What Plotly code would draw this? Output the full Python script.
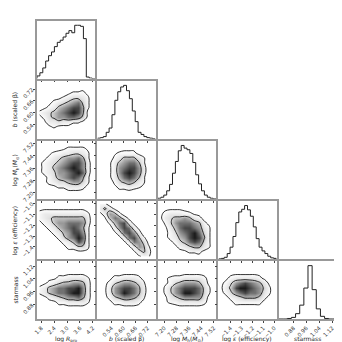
import numpy as np
import plotly.graph_objects as go
from plotly.subplots import make_subplots

# parameter names, axis ranges and ticks
labels = ["log <i>R</i><sub>pro</sub>", "<i>b</i> (scaled β)",
          "log <i>M</i><sub>h</sub>(<i>M</i><sub>⊙</sub>)", "log <i>ε</i> (efficiency)", "starmass"]
ranges = [[1.6, 4.3], [0.47, 0.76], [7.16, 7.535], [-1.51, -0.98], [0.79, 1.15]]
tickvals = [[1.8, 2.4, 3.0, 3.6, 4.2], [0.54, 0.60, 0.66, 0.72], [7.20, 7.28, 7.36, 7.44, 7.52],
            [-1.4, -1.3, -1.2, -1.1, -1.0], [0.88, 0.96, 1.04, 1.12]]
ticktext = [["1.8", "2.4", "3.0", "3.6", "4.2"], ["0.54", "0.60", "0.66", "0.72"],
            ["7.20", "7.28", "7.36", "7.44", "7.52"], ["−1.4", "−1.3", "−1.2", "−1.1", "−1.0"],
            ["0.88", "0.96", "1.04", "1.12"]]

# 1D marginal histograms (relative counts)
hist_logR = [0.05, 0.11, 0.2, 0.33, 0.43, 0.5, 0.6, 0.68, 0.72, 0.78, 0.85, 0.9, 0.86, 1.0, 1.0, 0.98, 0.75, 0.03, 0.01, 0.0]
hist_b = [0.01, 0.02, 0.04, 0.12, 0.2, 0.45, 0.72, 0.88, 0.97, 1.0, 0.9, 0.75, 0.52, 0.32, 0.12, 0.08, 0.04, 0.02, 0.01, 0.0]
hist_logM = [0.01, 0.03, 0.07, 0.15, 0.27, 0.48, 0.7, 0.9, 1.0, 0.95, 0.92, 0.85, 0.68, 0.45, 0.28, 0.15, 0.07, 0.03, 0.01, 0.0]
hist_eps = [0.0, 0.01, 0.03, 0.1, 0.22, 0.42, 0.68, 0.88, 0.93, 1.0, 0.92, 0.8, 0.6, 0.38, 0.22, 0.15, 0.1, 0.05, 0.02, 0.01]
hist_star = [0.0, 0.0, 0.01, 0.03, 0.1, 0.26, 0.58, 1.0, 0.55, 0.19, 0.05, 0.01, 0.0, 0.0]
hists = [hist_logR, hist_b, hist_logM, hist_eps, hist_star]

# 2D densities (0-9 levels), top row first, keyed (row, col)
dens_b_R = ["000000000000", "000000000100", "000000122210", "000112344320", "001234567420", "012356788520",
            "234567898510", "124566776410", "013343322100", "001211100000", "000000000000", "000000000000"]
dens_M_R = ["000000000000", "000011222210", "001223344320", "012345667520", "123456788630", "123567898630",
            "123466789730", "012456787520", "012344566420", "001122333210", "000000111100", "000000000000"]
dens_e_R = ["000000000000", "111111111100", "233333333320", "234555555530", "123566777630", "012356787520",
            "001235688620", "000124679720", "000012358620", "000001224420", "000000111110", "000000000000"]
dens_s_R = ["000000000000", "000000000000", "000011111100", "001122333320", "012345566530", "235677889630",
            "235677899630", "012345667530", "001122333320", "000011111100", "000000000000", "000000000000"]
dens_M_b = ["000000000000", "000001110000", "000122221000", "000235553200", "001356775200", "001367886300",
            "001368986300", "001357875200", "000245653200", "000122322100", "000011110000", "000000000000"]
dens_e_b = ["220000000000", "353100000000", "136520000000", "015763100000", "002578310000", "000368731000",
            "000137863000", "000013785200", "000001376410", "000000136520", "000000013530", "000000001220"]
dens_s_b = ["000000000000", "000000000000", "000111111000", "001223332100", "012456654200", "013678875300",
            "013679875300", "012456654200", "001223332100", "000111111000", "000000000000", "000000000000"]
dens_e_M = ["000000000000", "011111000000", "123332211000", "134556532100", "024677765210", "013578876320",
            "012467897420", "012356898520", "001245787420", "000123455320", "000011222100", "000000001000"]
dens_s_M = ["000000000000", "000000000000", "000111111100", "012223333210", "012456665310", "024678887420",
            "024679987420", "013456666310", "012233333210", "000111111100", "000000000000", "000000000000"]
dens_s_e = ["000000000000", "000000000000", "001111111000", "012333332100", "124678765310", "135899876420",
            "124678776320", "012345554210", "001222222110", "000111111000", "000000000000", "000000000000"]
densities = {(1, 0): dens_b_R, (2, 0): dens_M_R, (3, 0): dens_e_R, (4, 0): dens_s_R,
             (2, 1): dens_M_b, (3, 1): dens_e_b, (4, 1): dens_s_b,
             (3, 2): dens_e_M, (4, 2): dens_s_M, (4, 3): dens_s_e}

n = 5
specs = [[{} if c <= r else None for c in range(n)] for r in range(n)]
fig = make_subplots(rows=n, cols=n, specs=specs,
                    horizontal_spacing=2.5 / 302, vertical_spacing=2.5 / 301)

gray = [[0, "white"], [0.14, "white"], [0.25, "#f3f3f3"], [0.45, "#dedede"],
        [0.56, "#bcbcbc"], [0.75, "#7c7c7c"], [1, "#1a1a1a"]]


def centers(lo, hi, m):
    w = (hi - lo) / m
    return np.linspace(lo + w / 2, hi - w / 2, m)


for i in range(n):
    h = hists[i]
    edges = np.linspace(ranges[i][0], ranges[i][1], len(h) + 1)
    xs = [edges[0]] + list(edges)
    ys = [0] + list(h) + [0]
    fig.add_trace(go.Scatter(x=xs, y=ys, mode="lines", line=dict(color="#222222", width=1, shape="hv"),
                             hoverinfo="skip"), row=i + 1, col=i + 1)

for (r, c), rows in densities.items():
    z = np.array([[int(ch) for ch in s] for s in rows[::-1]], dtype=float)
    xc = centers(ranges[c][0], ranges[c][1], z.shape[1])
    yc = centers(ranges[r][0], ranges[r][1], z.shape[0])
    fig.add_trace(go.Contour(x=xc, y=yc, z=z, zmin=0, zmax=9, colorscale=gray, showscale=False,
                             contours=dict(coloring="heatmap", start=1.5, end=4.5, size=3, showlines=True),
                             line=dict(color="black", width=0.8, smoothing=1), hoverinfo="skip"),
                  row=r + 1, col=c + 1)

tickfont = dict(size=5.5, color="#333333", family="DejaVu Sans")
for r in range(n):
    for c in range(r + 1):
        fig.update_xaxes(range=ranges[c], tickvals=tickvals[c], ticktext=ticktext[c],
                         showticklabels=(r == n - 1), tickangle=-45, tickfont=tickfont,
                         ticks="outside", ticklen=2, tickcolor="#444444",
                         showgrid=False, zeroline=False, showline=True, mirror=True,
                         linecolor="#999999", linewidth=1.6, row=r + 1, col=c + 1)
        if r == c:
            fig.update_yaxes(range=[0, 1.08], showticklabels=False, ticks="", showgrid=False,
                             zeroline=False, showline=True, mirror=True,
                             linecolor="#999999", linewidth=1.6, row=r + 1, col=c + 1)
        else:
            fig.update_yaxes(range=ranges[r], tickvals=tickvals[r], ticktext=ticktext[r],
                             showticklabels=(c == 0), tickangle=-45, tickfont=tickfont,
                             ticks="outside", ticklen=2, tickcolor="#444444",
                             showgrid=False, zeroline=False, showline=True, mirror=True,
                             linecolor="#999999", linewidth=1.6, row=r + 1, col=c + 1)

# axis titles as annotations
pw = (1 - 4 * 2.5 / 302) / 5
ph = (1 - 4 * 2.5 / 301) / 5
titlefont = dict(size=6, color="#222222", family="DejaVu Sans")
for c in range(n):
    fig.add_annotation(text=labels[c], xref="paper", yref="paper", x=c * (pw + 2.5 / 302) + pw / 2,
                       y=-0.066, showarrow=False, font=titlefont, xanchor="center", yanchor="middle")
for r in range(1, n):
    fig.add_annotation(text=labels[r], xref="paper", yref="paper", x=-0.072,
                       y=1 - r * (ph + 2.5 / 301) - ph / 2, textangle=-90,
                       showarrow=False, font=titlefont, xanchor="center", yanchor="middle")

fig.update_layout(width=342, height=342, margin=dict(l=29, r=11, t=11, b=30),
                  plot_bgcolor="white", paper_bgcolor="white", showlegend=False)
fig.write_html("out.html")
